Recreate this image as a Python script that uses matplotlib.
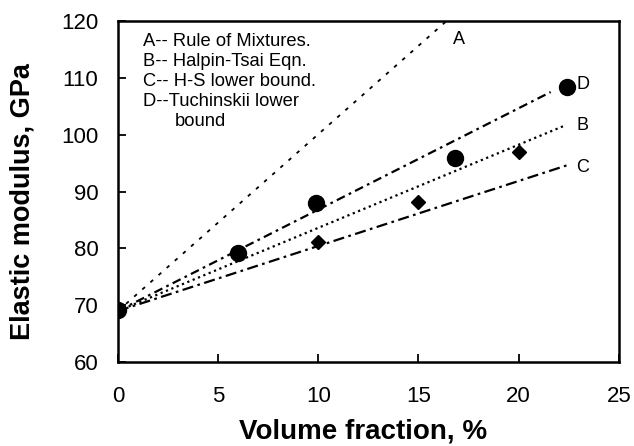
import matplotlib
matplotlib.use("Agg")
import matplotlib.pyplot as plt

plt.rcParams['font.family'] = ['Liberation Sans', 'DejaVu Sans']

# Experimental data (circles)
exp_x = [0, 6.0, 9.9, 16.8, 22.4]
exp_y = [69.1, 79.2, 88.0, 95.9, 108.3]
# Second data set (diamonds)
dia_x = [10.0, 15.0, 20.0]
dia_y = [81.1, 88.2, 97.0]

# Model lines (start/end points)
A_x = [0, 17.5]
A_y = [69.0, 123.4]
B_x = [0, 22.3]
B_y = [69.0, 101.6]
C_x = [0, 22.4]
C_y = [69.0, 94.6]
D_x = [0, 21.6]
D_y = [69.0, 107.5]

legend_lines = ["A-- Rule of Mixtures.", "B-- Halpin-Tsai Eqn.", "C-- H-S lower bound.",
                "D--Tuchinskii lower", "bound"]
xticks = [0, 5, 10, 15, 20, 25]
yticks = [60, 70, 80, 90, 100, 110, 120]

fig = plt.figure(figsize=(6.34, 4.46), dpi=100)
ax = fig.add_axes([0.186, 0.188, 0.790, 0.765])

ax.plot(A_x, A_y, color='black', lw=1.3, linestyle=(0, (2, 4)))
ax.plot(B_x, B_y, color='black', lw=1.6, linestyle=(0, (1, 1.6)))
ax.plot(C_x, C_y, color='black', lw=1.6, linestyle=(0, (5, 2, 1.2, 2)))
ax.plot(D_x, D_y, color='black', lw=1.6, linestyle=(0, (4, 2, 1.2, 2)))

ax.plot(exp_x, exp_y, 'o', color='black', markersize=11.5, linestyle='none')
ax.plot(dia_x, dia_y, 'D', color='black', markersize=7, linestyle='none')

ax.text(17.0, 116.8, "A", fontsize=13, ha='center', va='center')
ax.text(23.2, 108.9, "D", fontsize=13, ha='center', va='center')
ax.text(23.2, 101.6, "B", fontsize=13, ha='center', va='center')
ax.text(23.2, 94.2, "C", fontsize=13, ha='center', va='center')

ys_px = [42, 62, 82, 102, 122]
for i, (t, yp) in enumerate(zip(legend_lines, ys_px)):
    xp = 143 if i < 4 else 175
    fig.text(xp / 634, 1 - yp / 446, t, fontsize=13.2, ha='left', va='center')

ax.set_xlim(0, 25)
ax.set_ylim(60, 120)
ax.set_xticks(xticks)
ax.set_yticks(yticks)
ax.tick_params(direction='in', length=6, width=1.3, labelsize=16)
ax.tick_params(axis='x', pad=17)
ax.tick_params(axis='y', pad=14)
for s in ax.spines.values():
    s.set_linewidth(1.8)

ax.set_xlabel("Volume fraction, %", fontsize=20, fontweight='bold', va='center')
ax.set_ylabel("Elastic modulus, GPa", fontsize=19.5, fontweight='bold', va='center')
ax.xaxis.set_label_coords(0.489, -0.202)
ax.yaxis.set_label_coords(-0.19, 0.47)

fig.savefig("out.png", dpi=100)
